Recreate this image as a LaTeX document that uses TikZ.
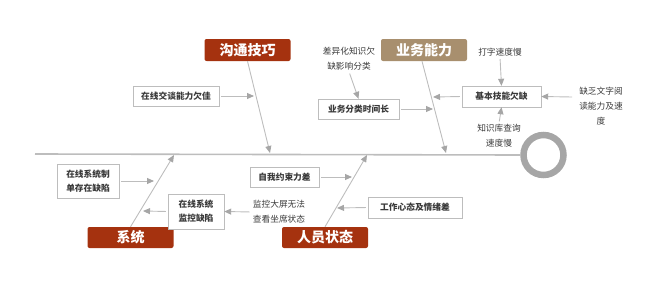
\documentclass[tikz,border=0pt]{standalone}
\usepackage{fontspec}
\setmainfont{Noto Sans CJK SC}
\usepackage{xcolor}
\usetikzlibrary{arrows.meta,positioning,calc}

\definecolor{catred}{HTML}{A5320F}
\definecolor{cattan}{HTML}{A88F6E}
\definecolor{bonegray}{HTML}{BDBDBD}
\definecolor{tipgray}{HTML}{A6A6A6}
\definecolor{txtgray}{HTML}{3A3A3A}

\begin{document}
\begin{tikzpicture}[
  x=1pt, y=-1pt,
  cat/.style={rounded corners=2pt, text=white, font=\fontsize{14}{16}\selectfont\bfseries, inner sep=0pt, minimum width=86pt, minimum height=22pt},
  cause/.style={draw=bonegray, fill=white, text=txtgray, font=\fontsize{8.7}{14}\selectfont\bfseries, align=center, inner sep=2pt, minimum height=20pt},
  note/.style={text=txtgray, font=\fontsize{8.7}{14.8}\selectfont, align=center, inner sep=1pt},
  bone/.style={draw=bonegray, line width=0.9pt},
  arr/.style={draw=bonegray, line width=0.9pt, -{Triangle[length=7pt,width=6pt,color=tipgray]}, shorten <=2pt}
]
  \useasboundingbox (0,0) rectangle (650,289);

  % spine and head
  \node[circle, draw=tipgray, line width=6.5pt, minimum size=40pt, inner sep=0pt] (head) at (543.5,155) {};
  \coordinate (tail) at (35,154);
  \draw[draw=bonegray, line width=1.6pt] (tail) -- (head.west);

  % categories
  \node[cat, fill=catred] (comm) at (247.5,50) {沟通技巧};
  \node[cat, fill=cattan] (biz) at (424,50) {业务能力};
  \node[cat, fill=catred, minimum height=21pt] (sys) at (130.5,237.5) {系统};
  \node[cat, fill=catred, minimum height=21pt] (staff) at (325,237.5) {人员状态};

  % bones
  \coordinate (combase) at (270,153);
  \coordinate (bizbase) at (446,153);
  \coordinate (sysbase) at (174,155);
  \coordinate (stfbase) at (367,155);
  \draw[arr, shorten <=0pt] (comm.south) -- (combase);
  \draw[arr, shorten <=0pt] ([xshift=-2pt]biz.south) -- (bizbase);
  \draw[arr, shorten <=0pt] (sys.north) -- (sysbase);
  \draw[arr, shorten <=0pt] (staff.north) -- (stfbase);

  % causes: communication
  \node[cause, minimum width=86pt] (talk) at (176,96) {在线交谈能力欠佳};
  \coordinate (talkend) at (254,96);
  \draw[arr] (talk.east) -- (talkend);

  % causes: business skill
  \node[cause, minimum width=81pt] (classify) at (358.5,109) {业务分类时间长};
  \node[note] (diff) at (349,59) {差异化知识欠\\缺影响分类};
  \node[cause, minimum width=79pt, minimum height=21pt] (skill) at (501.5,96.5) {基本技能欠缺};
  \node[note] (typing) at (500,52) {打字速度慢};
  \node[note] (read) at (601,106) {缺乏文字阅\\读能力及速\\度};
  \node[note] (kb) at (499,136) {知识库查询\\速度慢};
  \coordinate (clsend) at (433,109);
  \coordinate (skillend) at (433,97);
  \coordinate (readst) at (572,97);
  \draw[arr] (diff.south) -- (classify.north);
  \draw[arr] (classify.east) -- (clsend);
  \draw[arr] (typing.south) -- (skill.north);
  \draw[arr, shorten <=0pt] (readst) -- (skill.east);
  \draw[arr] (kb.north) -- (skill.south);
  \draw[arr] (skill.west) -- (skillend);

  % causes: system
  \node[cause, minimum width=62pt, minimum height=34pt] (order) at (88,181) {在线系统制\\单存在缺陷};
  \node[cause, minimum width=56pt, minimum height=35pt] (monitor) at (196,211.5) {在线系统\\监控缺陷};
  \node[note] (screen) at (279,212) {监控大屏无法\\查看坐席状态};
  \coordinate (orderend) at (154,181);
  \coordinate (monend) at (143,211);
  \draw[arr] (order.east) -- (orderend);
  \draw[arr] (screen.west) -- (monitor.east);
  \draw[arr] (monitor.west) -- (monend);

  % causes: staff state
  \node[cause, minimum width=69pt] (selfctl) at (284.5,177) {自我约束力差};
  \node[cause, minimum width=94pt, minimum height=21pt] (mood) at (415,207.5) {工作心态及情绪差};
  \coordinate (selfend) at (352,177);
  \coordinate (moodend) at (337,208);
  \draw[arr] (selfctl.east) -- (selfend);
  \draw[arr] (mood.west) -- (moodend);
\end{tikzpicture}
\end{document}
